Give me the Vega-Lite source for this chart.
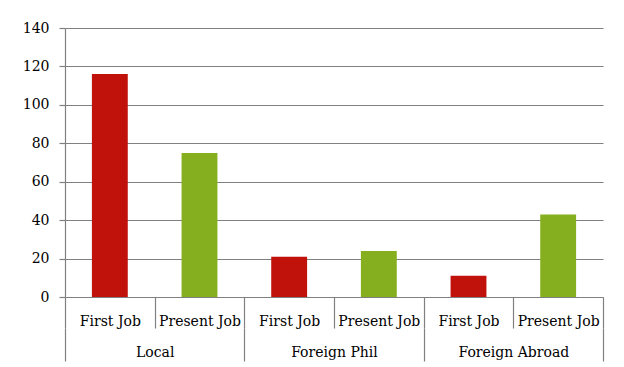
{
  "$schema": "https://vega.github.io/schema/vega-lite/v6.json",
  "autosize": {"type": "none"},
  "padding": {"left": 65, "top": 28, "right": 21, "bottom": 70},
  "width": 538,
  "height": 269,
  "background": "white",
  "config": {
    "view": {"stroke": null},
    "axis": {
      "labelFont": "DejaVu Serif",
      "labelFontSize": 14,
      "labelColor": "#000000",
      "domainColor": "#808080",
      "tickColor": "#808080",
      "gridColor": "#808080",
      "domainWidth": 1.2,
      "tickWidth": 1.2,
      "gridWidth": 1.2
    }
  },
  "resolve": {"scale": {"x": "independent"}, "axis": {"x": "independent"}},
  "layer": [
    {
      "data": {
        "values": [
          {"id": "Local|First Job", "group": "Local", "job": "First Job", "value": 116},
          {"id": "Local|Present Job", "group": "Local", "job": "Present Job", "value": 75},
          {"id": "Foreign Phil|First Job", "group": "Foreign Phil", "job": "First Job", "value": 21},
          {"id": "Foreign Phil|Present Job", "group": "Foreign Phil", "job": "Present Job", "value": 24},
          {"id": "Foreign Abroad|First Job", "group": "Foreign Abroad", "job": "First Job", "value": 11},
          {"id": "Foreign Abroad|Present Job", "group": "Foreign Abroad", "job": "Present Job", "value": 43}
        ]
      },
      "mark": {"type": "bar", "width": {"band": 0.4}},
      "encoding": {
        "x": {
          "field": "id",
          "type": "nominal",
          "sort": null,
          "scale": {"paddingInner": 0, "paddingOuter": 0},
          "axis": {
            "orient": "bottom",
            "title": null,
            "labelAngle": 0,
            "labelExpr": "split(datum.label, '|')[1]",
            "tickBand": "extent",
            "tickSize": 31,
            "labelPadding": -14,
            "labelOverlap": false,
            "labelBaseline": "top",
            "grid": false
          }
        },
        "y": {
          "field": "value",
          "type": "quantitative",
          "scale": {"domain": [0, 140], "nice": false},
          "axis": {
            "title": null,
            "values": [0, 20, 40, 60, 80, 100, 120, 140],
            "grid": true,
            "tickSize": 6,
            "labelPadding": 10
          }
        },
        "color": {
          "field": "job",
          "type": "nominal",
          "scale": {"domain": ["First Job", "Present Job"], "range": ["#C0120A", "#85AF1E"]},
          "legend": null
        }
      }
    },
    {
      "data": {
        "values": [
          {"group": "Local"},
          {"group": "Foreign Phil"},
          {"group": "Foreign Abroad"}
        ]
      },
      "mark": {"type": "bar", "opacity": 0},
      "encoding": {
        "x": {
          "field": "group",
          "type": "nominal",
          "sort": null,
          "scale": {"paddingInner": 0, "paddingOuter": 0},
          "axis": {
            "orient": "bottom",
            "offset": 31,
            "title": null,
            "domain": false,
            "labelAngle": 0,
            "tickBand": "extent",
            "tickSize": 33,
            "labelPadding": -16,
            "labelOverlap": false,
            "labelBaseline": "top",
            "grid": false
          }
        }
      }
    }
  ]
}
